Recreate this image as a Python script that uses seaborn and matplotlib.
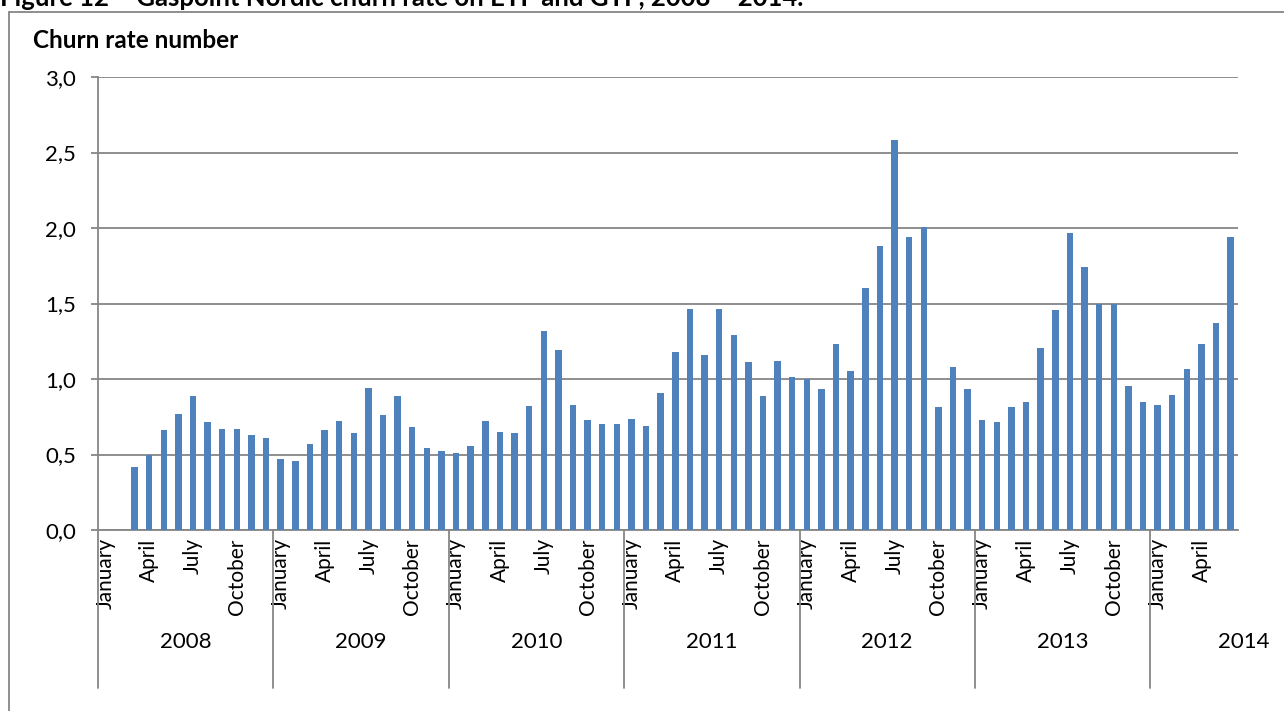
import numpy as np
import pandas as pd
import matplotlib
matplotlib.use("Agg")
import matplotlib.pyplot as plt
from matplotlib.lines import Line2D
import matplotlib.transforms as mtransforms
import seaborn as sns

# ---------------- data ----------------
years = [2008, 2009, 2010, 2011, 2012, 2013, 2014]
month_names = ["January", "February", "March", "April", "May", "June",
               "July", "August", "September", "October", "November", "December"]
shown_months = ["January", "April", "July", "October"]

churn_2008 = [None, None, 0.42, 0.50, 0.66, 0.77, 0.89, 0.715, 0.67, 0.67, 0.63, 0.61]
churn_2009 = [0.47, 0.46, 0.57, 0.66, 0.72, 0.64, 0.94, 0.76, 0.89, 0.68, 0.54, 0.52]
churn_2010 = [0.51, 0.555, 0.72, 0.65, 0.64, 0.82, 1.32, 1.19, 0.83, 0.73, 0.70, 0.70]
churn_2011 = [0.735, 0.69, 0.905, 1.18, 1.465, 1.16, 1.465, 1.29, 1.115, 0.89, 1.12, 1.01]
churn_2012 = [1.00, 0.935, 1.235, 1.055, 1.605, 1.88, 2.58, 1.94, 2.005, 0.815, 1.08, 0.935]
churn_2013 = [0.73, 0.715, 0.815, 0.845, 1.205, 1.46, 1.965, 1.74, 1.495, 1.495, 0.955, 0.85]
churn_2014 = [0.83, 0.895, 1.065, 1.235, 1.37, 1.94]

yticks = [0.0, 0.5, 1.0, 1.5, 2.0, 2.5, 3.0]
title = "Figure 12 \u2013 Gaspoint Nordic churn rate on ETF and GTF, 2008 \u2013 2014."
ylabel = "Churn rate number"

series = [churn_2008, churn_2009, churn_2010, churn_2011, churn_2012, churn_2013, churn_2014]

rows = []
for yr, vals in zip(years, series):
    for m, v in enumerate(vals):
        rows.append({"key": f"{yr}-{m+1:02d}", "year": yr, "month": month_names[m], "value": v})
df_all = pd.DataFrame(rows)
order = df_all["key"].tolist()
df = df_all.dropna(subset=["value"])

# ---------------- style ----------------
sns.set_theme(style="white")
plt.rcParams["font.family"] = ["Lato", "DejaVu Sans"]

W, H = 1284, 711
fig = plt.figure(figsize=(W / 100, H / 100), dpi=100)
fig.patch.set_facecolor("white")

ax_left, ax_right, ax_top, ax_bottom = 98, 1238, 77, 530
ax = fig.add_axes([ax_left / W, 1 - ax_bottom / H, (ax_right - ax_left) / W, (ax_bottom - ax_top) / H])

grid_col = "#868686"
sns.barplot(data=df, x="key", y="value", order=order, color="#4F81BD",
            saturation=1, width=0.44, errorbar=None, linewidth=0, ax=ax, zorder=3)

ax.set_xlim(-0.5, len(order) - 0.5)
ax.set_ylim(0, 3.0)
ax.set_yticks(yticks)
ax.set_yticklabels([f"{t:.1f}".replace(".", ",") for t in yticks])
ax.yaxis.grid(True, color=grid_col, lw=1.3, zorder=0)
ax.set_axisbelow(True)

for s in ["top", "right"]:
    ax.spines[s].set_visible(False)
for s in ["left", "bottom"]:
    ax.spines[s].set_color(grid_col)
    ax.spines[s].set_linewidth(1.3)

ax.tick_params(axis="y", length=5, width=1.3, color=grid_col, pad=11, labelsize=16, labelcolor="black", left=True)

# month tick labels
pos = [i for i, k in enumerate(order) if df_all.loc[i, "month"] in shown_months]
labs = [df_all.loc[i, "month"] for i in pos]
ax.set_xticks(pos)
ax.set_xticklabels(labs, rotation=90, fontsize=15, color="black")
ax.tick_params(axis="x", length=0, pad=6, bottom=False)
ax.set_xlabel("")
ax.set_ylabel("")

# year separators and year labels
trans = mtransforms.blended_transform_factory(ax.transData, ax.transAxes)
sep_bottom = -(688 - ax_bottom) / (ax_bottom - ax_top)
year_y = -(642 - ax_bottom) / (ax_bottom - ax_top)
start = 0
for yr, vals in zip(years, series):
    ax.add_line(Line2D([start - 0.5, start - 0.5], [0, sep_bottom], transform=trans,
                       color=grid_col, lw=1.3, clip_on=False))
    n = len(vals)
    if n == 12:
        cx = start + (n - 1) / 2
    else:
        cx = len(order) - 0.1
    ax.text(cx, year_y, str(yr), transform=trans, ha="center", va="center",
            fontsize=16, color="black", clip_on=False)
    start += n

# frame and texts
fig.add_artist(Line2D([9 / W, 1.0], [1 - 12 / H, 1 - 12 / H], color=grid_col, lw=1.3))
fig.add_artist(Line2D([9 / W, 9 / W], [0, 1 - 12 / H], color=grid_col, lw=1.3))
fig.text(0 / W, 1 - 6 / H, title, ha="left", va="baseline", fontsize=18.5, fontweight="bold", color="black")
fig.text(33 / W, 1 - 40 / H, ylabel, ha="left", va="center", fontsize=17.5, fontweight="bold", color="black")

fig.savefig("out.png", dpi=100, facecolor="white")
